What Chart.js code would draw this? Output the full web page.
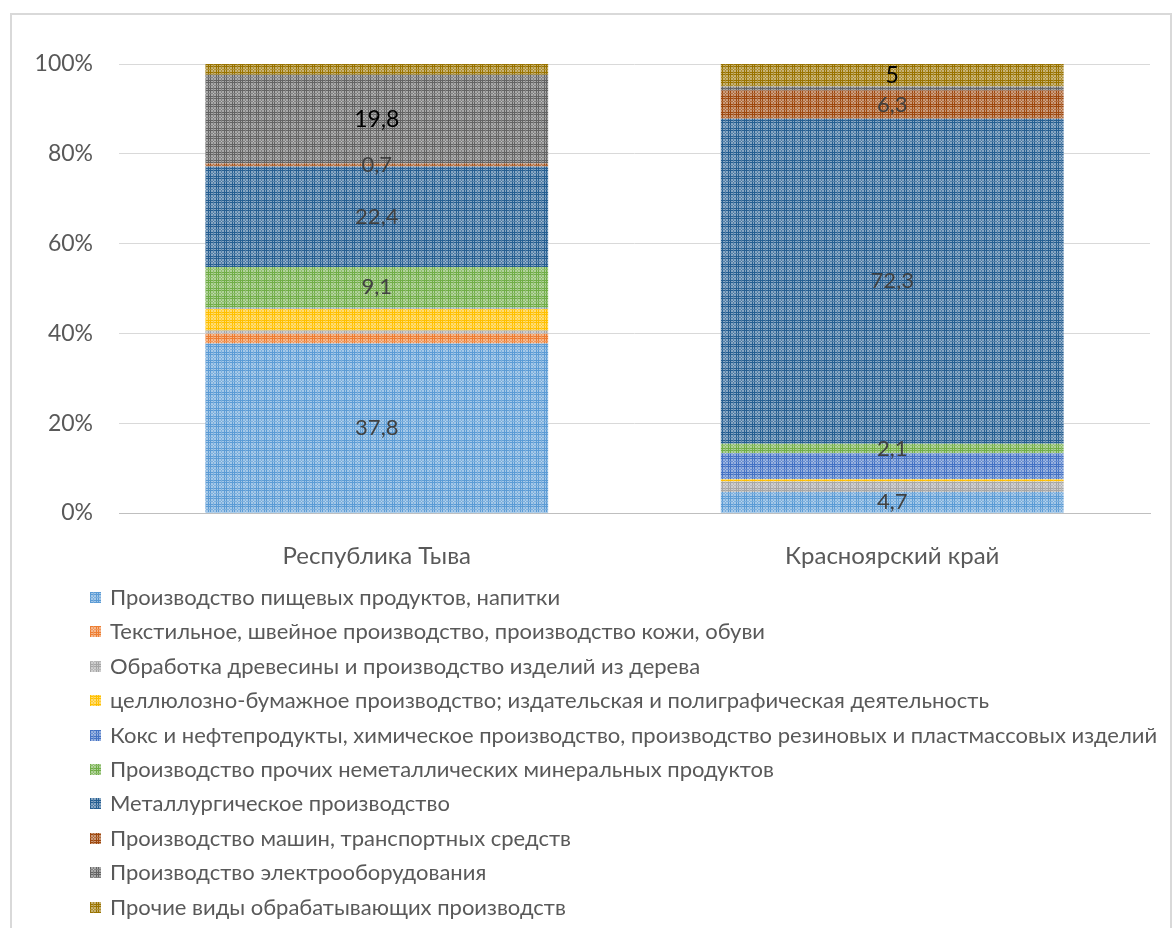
<!DOCTYPE html>
<html><head><meta charset="utf-8">
<script src="https://cdn.jsdelivr.net/npm/chart.js@4"></script>
<style>
html,body{margin:0;padding:0;background:#fff;}
#wrap{position:relative;width:1174px;height:928px;overflow:hidden;}
#frame{position:absolute;left:10px;top:13px;width:1162px;height:940px;border:2px solid #d9d9d9;box-sizing:border-box;pointer-events:none;}
</style></head><body>
<div id="wrap"><canvas id="c"></canvas><div id="frame"></div></div>
<script>
const categories = ['Республика Тыва', 'Красноярский край'];
const seriesNames = [
  'Производство пищевых продуктов, напитки',
  'Текстильное, швейное производство, производство кожи, обуви',
  'Обработка древесины и производство изделий из дерева',
  'целлюлозно-бумажное производство; издательская и полиграфическая деятельность',
  'Кокс и нефтепродукты, химическое производство, производство резиновых и пластмассовых изделий',
  'Производство прочих неметаллических минеральных продуктов',
  'Металлургическое производство',
  'Производство машин, транспортных средств',
  'Производство электрооборудования',
  'Прочие виды обрабатывающих производств'
];
const food     = [37.8, 4.7];
const textile  = [2.2, 0];
const wood     = [0.7, 2.3];
const pulp     = [4.9, 0.5];
const chem     = [0.2, 5.8];
const nonmetal = [9.1, 2.1];
const metal    = [22.4, 72.3];
const machines = [0.7, 6.3];
const electro  = [19.8, 0.9];
const other    = [2.4, 5];
// which values carry a data label
const labelFood     = [true, true];
const labelTextile  = [false, false];
const labelWood     = [false, false];
const labelPulp     = [false, false];
const labelChem     = [false, false];
const labelNonmetal = [true, true];
const labelMetal    = [true, true];
const labelMachines = [true, true];
const labelElectro  = [true, false];
const labelOther    = [false, true];
const yTicks = [0, 20, 40, 60, 80, 100];

const seriesValues = [food, textile, wood, pulp, chem, nonmetal, metal, machines, electro, other];
const seriesLabelFlags = [labelFood, labelTextile, labelWood, labelPulp, labelChem, labelNonmetal, labelMetal, labelMachines, labelElectro, labelOther];
const colors = ['#5B9BD5','#ED7D31','#A5A5A5','#FFC000','#4472C4','#70AD47','#255E91','#9E480E','#636363','#997300'];
const labelColors = ['#404040','#404040','#404040','#404040','#404040','#404040','#404040','#404040','#000000','#000000'];
const labelSizes = [22,22,22,22,22,22,22,22,23,23];

function hexToRgb(h){h=h.replace('#','');return [parseInt(h.substr(0,2),16),parseInt(h.substr(2,2),16),parseInt(h.substr(4,2),16)];}
function mixWhite(h,t){const c=hexToRgb(h);return 'rgb('+c.map(v=>Math.round(v+(255-v)*t)).join(',')+')';}
function makePattern(h){
  const tile=document.createElement('canvas');tile.width=8;tile.height=8;
  const g=tile.getContext('2d');
  g.fillStyle=mixWhite(h,0.45);g.fillRect(0,0,8,8);
  g.fillStyle=h;
  g.fillRect(0,0,8,1);g.fillRect(0,2,8,1);g.fillRect(0,0,1,8);g.fillRect(2,0,1,8);
  g.fillStyle=mixWhite(h,0.2);g.fillRect(0,5,8,1);g.fillRect(5,0,1,8);
  g.fillStyle=mixWhite(h,0.6);g.fillRect(5,5,1,1);
  return document.createElement('canvas').getContext('2d').createPattern(tile,'repeat');
}
const totals = categories.map((_,j)=>seriesValues.reduce((s,a)=>s+a[j],0));
const fmt = v => String(v).replace('.', ',');

const datasets = seriesNames.map((name,i)=>({
  label: name,
  data: seriesValues[i].map((v,j)=>v/totals[j]*100),
  backgroundColor: makePattern(colors[i]),
  swatch: makePattern(colors[i]),
  borderWidth: 0,
  barPercentage: 0.665,
  categoryPercentage: 1
}));

const FONT = 'Lato';

const dataLabelPlugin = {
  id:'dataLabels',
  afterDatasetsDraw(chart){
    const ctx=chart.ctx;ctx.save();
    ctx.textAlign='center';ctx.textBaseline='middle';
    chart.data.datasets.forEach((ds,i)=>{
      const meta=chart.getDatasetMeta(i);
      meta.data.forEach((el,j)=>{
        if(!seriesLabelFlags[i][j]) return;
        const p=el.getProps(['x','y','base'],true);
        ctx.font=labelSizes[i]+'px '+FONT;
        ctx.fillStyle=labelColors[i];
        ctx.fillText(fmt(seriesValues[i][j]), p.x, (p.y+p.base)/2);
      });
    });
    ctx.restore();
  }
};
const legendPlugin = {
  id:'customLegend',
  afterDraw(chart){
    const ctx=chart.ctx;ctx.save();
    ctx.textAlign='left';ctx.textBaseline='middle';
    ctx.font='22px '+FONT;
    chart.data.datasets.forEach((ds,i)=>{
      const y=597+i*34.4;
      ctx.fillStyle=ds.swatch;ctx.fillRect(90,Math.round(y-5),11,11);
      ctx.fillStyle='#595959';
      ctx.fillText(ds.label,110,y+1);
    });
    ctx.restore();
  }
};

new Chart(document.getElementById('c'),{
  type:'bar',
  data:{labels:categories,datasets},
  options:{
    responsive:true,maintainAspectRatio:false,animation:false,
    layout:{padding:{left:0,right:24,top:64,bottom:355}},
    plugins:{legend:{display:false},tooltip:{enabled:false}},
    scales:{
      x:{stacked:true,
        grid:{display:false,drawTicks:false},
        border:{display:true,color:'#BFBFBF',width:1},
        ticks:{font:{family:FONT,size:24},color:'#595959',padding:29},
        afterFit(s){s.height=60;}
      },
      y:{stacked:true,min:0,max:100,
        afterBuildTicks(s){s.ticks=yTicks.map(v=>({value:v}));},
        grid:{color:'#D9D9D9',drawTicks:false},
        border:{display:false},
        ticks:{font:{family:FONT,size:23},color:'#595959',padding:26,callback:v=>v+'%'},
        afterFit(s){s.width=119;}
      }
    }
  },
  plugins:[dataLabelPlugin,legendPlugin]
});
</script>
</body></html>
